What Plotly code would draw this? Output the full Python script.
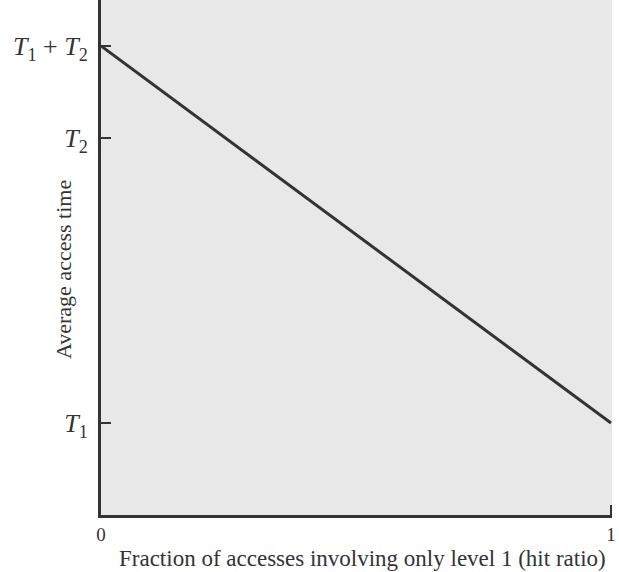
import plotly.graph_objects as go

# hit ratio (fractie) en gemiddelde toegangstijd
hit_ratio = [0, 1]
T1 = 1.0
T2 = 4.1
access_time = [T1 + T2, T1]

x_tickvals = [0, 1]
x_ticktext = ["0", "1"]
y_tickvals = [T1, T2, T1 + T2]
y_ticktext = [
    "<i>T</i><sub>1</sub>",
    "<i>T</i><sub>2</sub>",
    "<i>T</i><sub>1</sub> + <i>T</i><sub>2</sub>",
]

fig = go.Figure(data=[
    go.Scatter(x=hit_ratio, y=access_time, mode="lines",
               line=dict(color="#333333", width=3), hoverinfo="skip")
])

serif = "Liberation Serif"

fig.update_layout(
    width=619,
    height=572,
    margin=dict(l=101, r=7, t=0, b=57),
    plot_bgcolor="#e8e8e8",
    paper_bgcolor="white",
    showlegend=False,
    font=dict(family=serif, color="#333333"),
    xaxis=dict(
        range=[0, 1.002],
        tickvals=x_tickvals,
        ticktext=x_ticktext,
        ticks="inside",
        ticklen=10,
        tickwidth=2,
        tickcolor="#333333",
        showline=True,
        linecolor="#333333",
        linewidth=3,
        showgrid=False,
        zeroline=False,
        automargin=False,
        tickfont=dict(size=19, family=serif),
        ticklabelstandoff=0,
    ),
    yaxis=dict(
        range=[0, 5.6],
        tickvals=y_tickvals,
        ticktext=y_ticktext,
        ticks="inside",
        ticklen=10,
        tickwidth=2,
        tickcolor="#333333",
        showline=True,
        linecolor="#333333",
        linewidth=3,
        showgrid=False,
        zeroline=False,
        automargin=False,
        ticklabelstandoff=5,
        tickfont=dict(size=26, family=serif),
    ),
    annotations=[
        dict(
            text="Average access time",
            xref="paper", yref="paper",
            x=-38 / 511, y=245 / 515,
            xanchor="center", yanchor="middle",
            textangle=-90, showarrow=False,
            font=dict(size=22, family=serif, color="#333333"),
        ),
        dict(
            text="Fraction of accesses involving only level 1 (hit ratio)",
            xref="paper", yref="paper",
            x=261 / 511, y=-43 / 515,
            xanchor="center", yanchor="middle",
            showarrow=False,
            font=dict(size=23, family=serif, color="#333333"),
        ),
    ],
)

fig.write_html("out.html", config={"displayModeBar": False},
               post_script="document.body.style.margin='0';")
